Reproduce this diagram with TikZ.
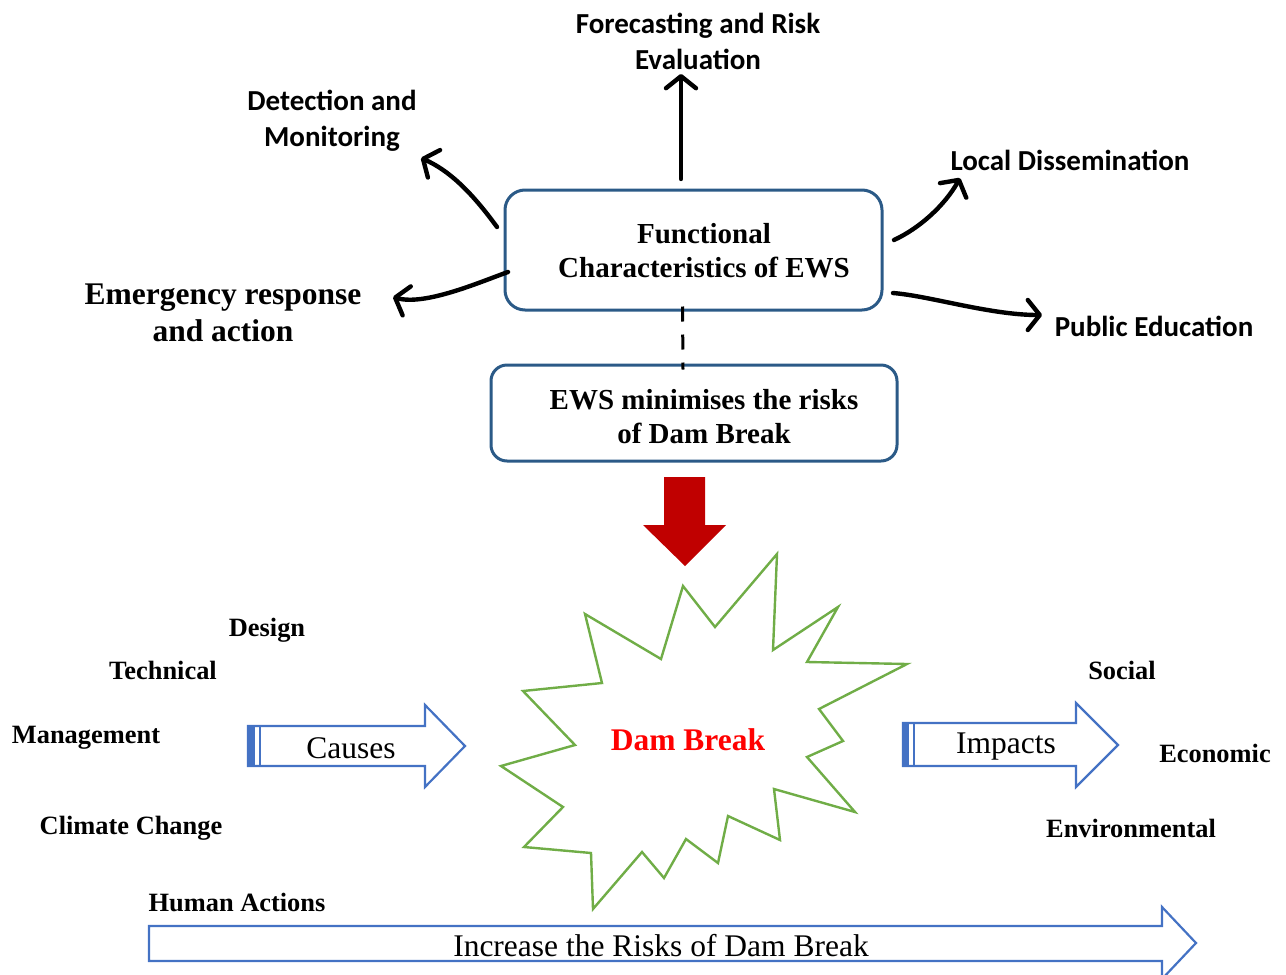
\documentclass[tikz,border=0pt]{standalone}
\usepackage{fontspec}
\setmainfont{Liberation Serif}
\newfontfamily\calibfont{Carlito}
\usepackage{xcolor}
\usepackage{tikz}
\usetikzlibrary{positioning,calc,arrows.meta}

\definecolor{boxblue}{HTML}{2B5A87}
\definecolor{arrowblue}{HTML}{4472C4}
\definecolor{stargreen}{HTML}{70AD47}
\definecolor{downred}{HTML}{C00000}

\tikzset{
	ewsbox/.style={draw=boxblue, line width=3pt, rounded corners=20pt, fill=white},
	boxtext/.style={font=\bfseries\fontsize{29}{34}\selectfont, align=center},
	featlabel/.style={font=\calibfont\bfseries\fontsize{29}{36}\selectfont, align=center},
	factor/.style={font=\bfseries\fontsize{26.4}{30}\selectfont},
	blockarrow/.style={draw=arrowblue, line width=2.2pt, fill=white, line join=miter},
	flowtext/.style={font=\fontsize{31.5}{36}\selectfont},
	handarrow/.style={line width=4.4pt, line cap=round, -{Straight Barb[length=12pt,width=30pt,round]}},
}

\begin{document}
\begin{tikzpicture}[x=1pt,y=-1pt]
								\useasboundingbox (0,0) rectangle (1286,975);
								% boxes
								\node[ewsbox, minimum width=377pt, minimum height=120pt] (func) at (693.5,250) {};
								\node[boxtext] (functxt) at (704,251) {Functional\\Characteristics of EWS};
								\node[ewsbox, rounded corners=16pt, minimum width=406pt, minimum height=96pt] (ews) at (694,413) {};
								\node[boxtext] (ewstxt) at (704,417) {EWS minimises the risks\\of Dam Break};
								\draw[line width=3pt, dash pattern=on 15pt off 13pt] ([xshift=-11pt,yshift=5pt]func.south) -- ([xshift=-11pt,yshift=-6pt]ews.north);

								% functions round the box
								\node[featlabel] (forecast) at (698,41) {Forecasting and Risk\\Evaluation};
								\node[featlabel] (detect) at (332,121) {Detection and\\Monitoring};
								\node[featlabel] (local) at (1070,160) {Local Dissemination};
								\node[featlabel] (public) at (1154,326) {Public Education};
								\node[font=\bfseries\fontsize{31.5}{37}\selectfont, align=center] (emerg) at (223,313) {Emergency response\\and action};

								\coordinate (forecastS) at (681,179);
								\coordinate (forecastE) at (681,74);
								\coordinate (detectS) at (497,227);
								\coordinate (detectE) at (421,158);
								\coordinate (emergS) at (508,272);
								\coordinate (emergE) at (393,297);
								\coordinate (localS) at (894,240);
								\coordinate (localE) at (960,178);
								\coordinate (publicS) at (893,293);
								\coordinate (publicE) at (1042,315);
								\draw[handarrow] (forecastS) -- (forecastE);
								\draw[handarrow] (detectS) .. controls (470,190) and (448,170) .. (detectE);
								\draw[handarrow] (emergS) .. controls (480,282) and (425,306) .. (emergE);
								\draw[handarrow] (localS) .. controls (920,228) and (945,205) .. (localE);
								\draw[handarrow] (publicS) .. controls (930,296) and (990,315) .. (publicE);

								\fill[downred] (664,477) -- (705,477) -- (705,525) -- (726,525) -- (685,566) -- (643,525) -- (664,525) -- cycle;

								% the burst
								\draw[stargreen, line width=2.4pt, line join=miter] (777,554) -- (773,650) -- (838,607) -- (807,662) -- (907,664) -- (819,709) -- (843,741) -- (807,757) -- (855,812) -- (774,789) -- (780,840) -- (728,816) -- (718,863) -- (686,839) -- (664,878) -- (642,852) -- (593,909) -- (591,853) -- (524,847) -- (563,807) -- (501,766) -- (575,745) -- (523,691) -- (602,683) -- (585,614) -- (661,659) -- (683,586) -- (715,627) -- cycle;
								\node[font=\bfseries\fontsize{31.5}{36}\selectfont, text=red] (dam) at (688,740) {Dam Break};

								% causes
								\draw[blockarrow] (248,726) -- (425,726) -- (425,705) -- (465,746) -- (425,787) -- (425,766) -- (248,766) -- cycle;
								\fill[arrowblue] (247,725) rectangle (255,767);
								\draw[arrowblue, line width=2.2pt] (260,726) -- (260,766);
								\node[flowtext] (causes) at (351,748) {Causes};
								\node[factor] (design) at (267,630) {Design};
								\node[factor] (tech) at (163,670) {Technical};
								\node[factor] (manage) at (86,738) {Management};
								\node[factor] (climate) at (131,828) {Climate Change};
								\node[factor] (human) at (237,902) {Human Actions};

								% impacts
								\draw[blockarrow] (903,723) -- (1076,723) -- (1076,703) -- (1118,745) -- (1076,787) -- (1076,766) -- (903,766) -- cycle;
								\fill[arrowblue] (902,722) rectangle (909,767);
								\draw[arrowblue, line width=2.2pt] (914,723) -- (914,766);
								\node[flowtext] (impacts) at (1006,747) {Impacts};
								\node[factor] (social) at (1122,670) {Social};
								\node[factor] (econ) at (1215,753) {Economic};
								\node[factor] (environ) at (1131,828) {Environmental};

								\draw[blockarrow] (149,926) -- (1162,926) -- (1162,907) -- (1196,943) -- (1162,979) -- (1162,961) -- (149,961) -- cycle;
								\node[flowtext] (increase) at (661,946) {Increase the Risks of Dam Break};
							\end{tikzpicture}
\end{document}
